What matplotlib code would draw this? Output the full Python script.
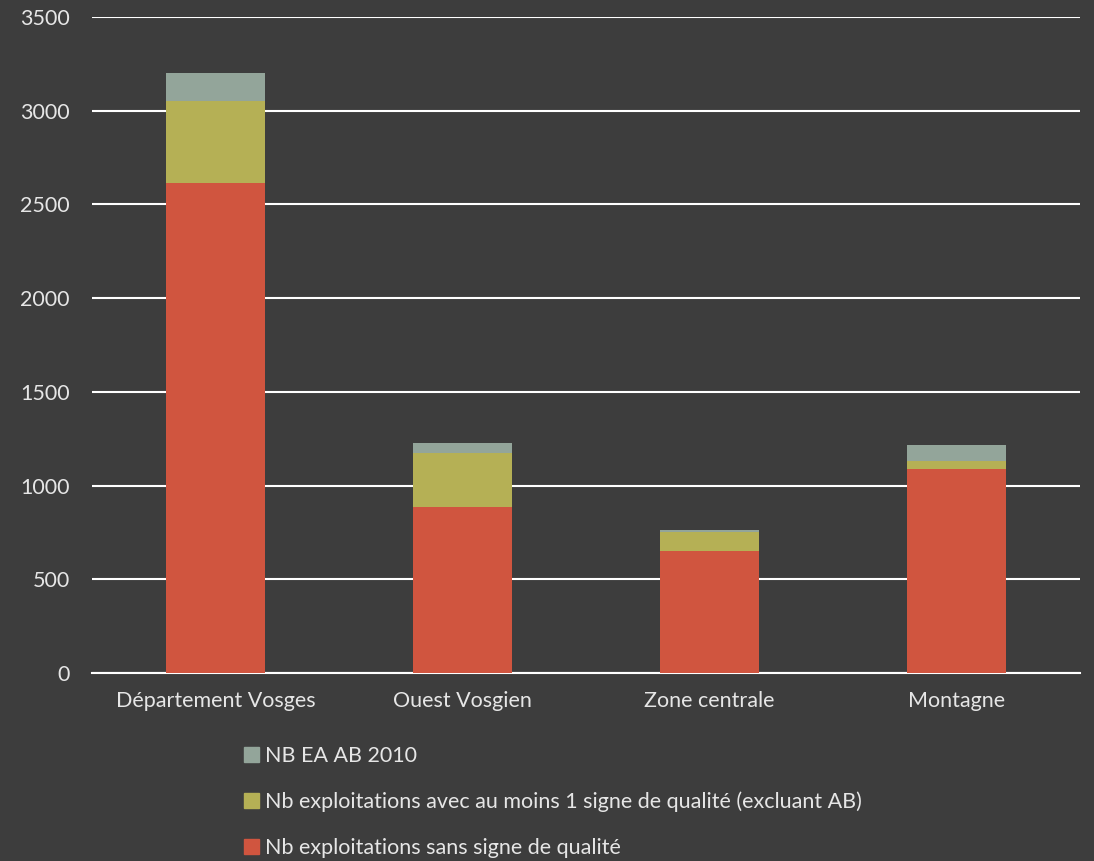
import matplotlib

matplotlib.use("Agg")
import matplotlib.pyplot as plt  # noqa: E402
from matplotlib.patches import Patch  # noqa: E402

BG, INK, GRID = "#3d3d3d", "#e6e6e6", "#ffffff"
RED, OLIVE, SAGE = "#d0553f", "#b5b055", "#93a59a"

zones = ["Département Vosges", "Ouest Vosgien", "Zone centrale", "Montagne"]
sans_signe = [2614, 886, 651, 1088]
avec_signe = [438, 288, 101, 43]
ab_2010 = [149, 53, 11, 85]

labels = [
    "NB EA AB 2010",
    "Nb exploitations avec au moins 1 signe de qualité (excluant AB)",
    "Nb exploitations sans signe de qualité",
]

plt.rcParams["font.family"] = ["Lato", "DejaVu Sans"]
FS = 15.5

fig = plt.figure(figsize=(10.94, 8.61), dpi=100)
fig.patch.set_facecolor(BG)
ax = fig.add_axes([92 / 1094, 1 - 673 / 861, 988 / 1094, 656 / 861])
ax.set_facecolor(BG)

xs = range(len(zones))
w = 0.4
ax.bar(xs, sans_signe, w, color=RED, zorder=3)
bottom = list(sans_signe)
ax.bar(xs, avec_signe, w, bottom=bottom, color=OLIVE, zorder=3)
bottom = [a + b for a, b in zip(bottom, avec_signe)]
ax.bar(xs, ab_2010, w, bottom=bottom, color=SAGE, zorder=3)

ax.set_xlim(-0.5, len(zones) - 0.5)
ax.set_ylim(0, 3500)
ax.set_yticks(range(0, 3501, 500))
ax.set_xticks(list(xs), zones)
ax.grid(axis="y", color=GRID, linewidth=1.5, zorder=0)
for s in ("top", "right", "left"):
    ax.spines[s].set_visible(False)
ax.spines["bottom"].set_color(GRID)
ax.spines["bottom"].set_linewidth(1.5)
ax.tick_params(axis="both", length=0, colors=INK, labelsize=FS)
ax.tick_params(axis="y", pad=16)
ax.tick_params(axis="x", pad=13)

# legend sits in the bottom margin, the last row touching the figure edge
handles = [Patch(color=SAGE), Patch(color=OLIVE), Patch(color=RED)]
fig.legend(handles, labels, loc="upper left", bbox_to_anchor=(233 / 1094, 1 - 735 / 861),
           frameon=False, fontsize=FS, labelcolor=INK, handlelength=0.7,
           handleheight=0.7, handletextpad=0.3, labelspacing=1.2, borderpad=0)

fig.savefig("out.png", dpi=100, facecolor=BG)
